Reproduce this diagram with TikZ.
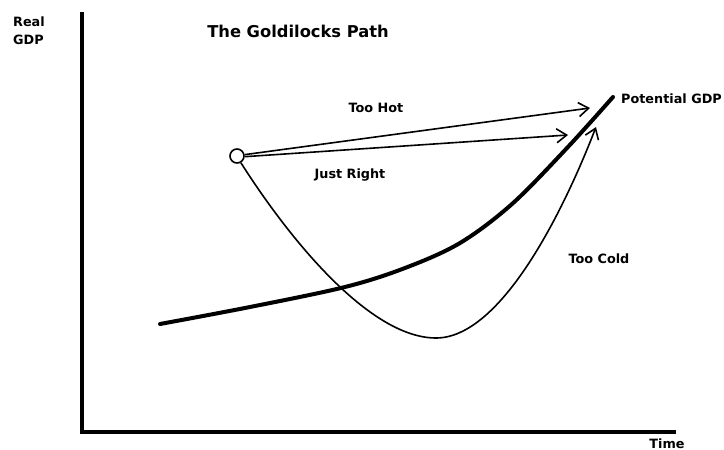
\documentclass[tikz,border=0pt]{standalone}
\usepackage{fontspec}
\setmainfont{DejaVu Sans}
\usetikzlibrary{arrows.meta}
\begin{document}
\begin{tikzpicture}[x=1pt,y=-1pt,
  lbl/.style={font=\bfseries\fontsize{12.8}{18}\selectfont, inner sep=0pt, anchor=base},
  axis/.style={line width=4.5pt},
  pot/.style={line width=4pt, line cap=round},
  path/.style={line width=1.6pt},
  barb/.style={-{Straight Barb[length=10pt,width=14pt,line width=1.6pt]}}]
\useasboundingbox (0,0) rectangle (724,450);
\coordinate (ytop) at (82,12);
\coordinate (orig) at (82,432);
\coordinate (xend) at (676,432);
\draw[axis] (ytop) -- (orig) -- (xend);
\node[lbl, anchor=base west] (ylab1) at (13,26) {Real};
\node[lbl, anchor=base west] (ylab2) at (13,44) {GDP};
\node[lbl] (xlab) at (667,448) {Time};
\node[font=\bfseries\fontsize{16.3}{18}\selectfont, inner sep=0pt, anchor=base] (title) at (298,37) {The Goldilocks Path};
% potential GDP
\coordinate (p0) at (160,324);
\coordinate (p1) at (613,97);
\draw[pot] plot[smooth, tension=0.55] coordinates {(p0) (250,307) (345,287) (405,268) (460,243) (512,204) (567,148) (p1)};
\node[lbl, anchor=base west] (potlab) at (621,103) {Potential GDP};
% start point
\node[circle, draw, line width=1.6pt, minimum size=14pt, inner sep=0pt] (start) at (237,156) {};
\coordinate (hot) at (590,108);
\coordinate (right) at (568,135);
\coordinate (bottom) at (436,338);
\coordinate (cold) at (596,127);
\draw[path, barb] (start.10) -- (hot);
\draw[path, barb] (start.-5) -- (right);
\draw[path, barb] (start.-60) .. controls (290,240) and (370,338) .. (bottom)
  .. controls (500,338) and (562,215) .. (cold);
\node[lbl] (hotlab) at (376,112) {Too Hot};
\node[lbl] (rightlab) at (350,178) {Just Right};
\node[lbl] (coldlab) at (599,263) {Too Cold};
\end{tikzpicture}
\end{document}
